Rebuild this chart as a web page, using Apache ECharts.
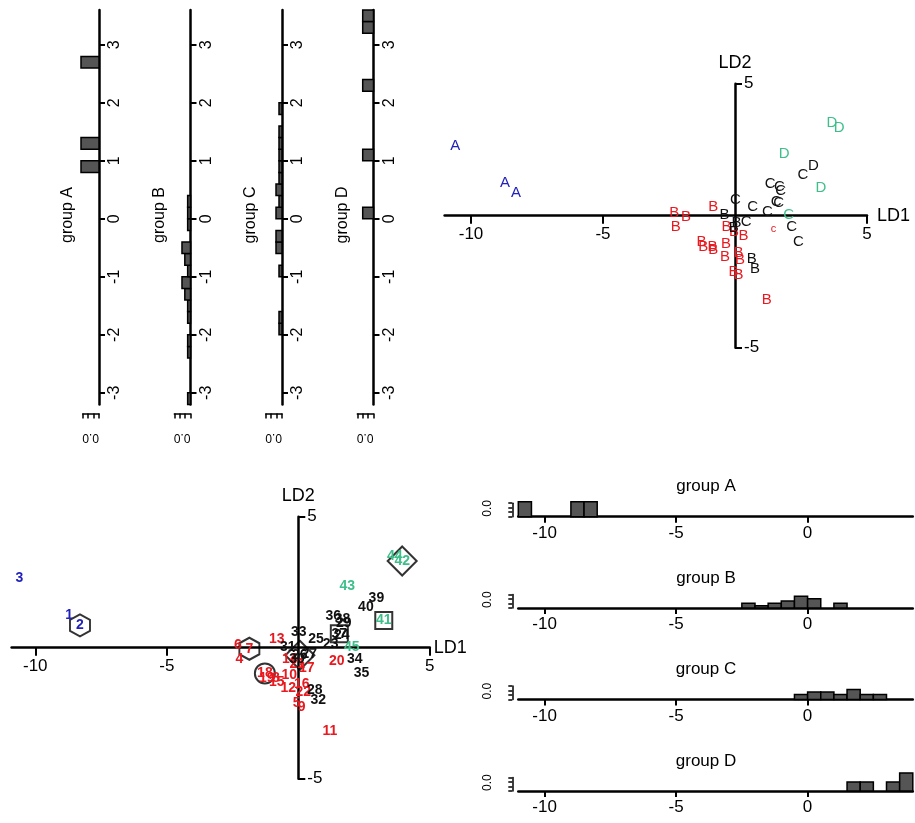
<!DOCTYPE html>
<html><head><meta charset="utf-8">
<script src="https://cdn.jsdelivr.net/npm/echarts@6/dist/echarts.min.js"></script>
<style>html,body{margin:0;padding:0;background:#fff}#c{width:915px;height:823px}</style>
</head><body><div id="c"></div>
<script>
// ---------------- data ----------------
const ids = [1,2,3,4,5,6,7,8,9,10,11,12,13,14,15,16,17,18,19,20,21,22,23,24,25,26,27,28,29,30,31,32,33,34,35,36,37,38,39,40,41,42,43,44,45];
const grp = ['A','A','A',
  'B','B','B','B','B','B','B','B','B','B','B','B','B','B','B','B','B','B','B',
  'C','C','C','C','C','C','C','C','C','C','C','C','C','C','C','C','C','C',
  'D','D','D','D','D'];
const ld1 = [-8.71,-8.30,-10.60,
  -2.24,-0.06,-2.30,-1.86,-0.85,0.13,-0.34,1.20,-0.38,-0.82,-0.32,-0.82,0.13,0.32,-1.27,-1.20,1.46,-0.04,0.19,
  1.23,1.65,0.67,0.06,0.42,0.63,1.73,-0.05,-0.40,0.76,0.02,2.15,2.40,1.33,1.56,1.68,2.97,2.57,
  3.25,3.95,1.86,3.67,2.03];
const ld2 = [1.25,0.85,2.65,
  -0.44,-2.12,0.10,-0.04,-1.17,-2.25,-1.05,-3.17,-1.55,0.34,-0.42,-1.30,-1.40,-0.77,-0.98,-1.17,-0.52,-0.62,-1.68,
  0.15,0.49,0.32,-0.29,-0.25,-1.62,0.95,-0.45,0.02,-2.00,0.60,-0.44,-0.98,1.20,0.53,1.10,1.88,1.54,
  1.04,3.31,2.36,3.50,0.03];
const predLabel = ['A','A','A',
  'B','B','B','B','B','B','B','B','B','B','B','B','B','B','B','B','c','B','B',
  'C','C','C','B','C','B','C','B','B','B','C','C','C','C','C','C','D','C',
  'D','D','D','D','C'];
const groups = ['A','B','C','D'];
const shapeIds   = [2, 7, 18, 26, 37, 41, 42];
const shapeKinds = ['hexagon','hexagon','circle','diamond','square','square','diamond'];
const ld2Ticks = [-3,-2,-1,0,1,2,3];
const ld1HistTicks = [-10,-5,0];
const scatterXTicks = [-10,-5,5];
const scatterYTicks = [-5,5];

// ---------------- helpers ----------------
const FONT = '"Liberation Sans", Arial, Helvetica, sans-serif';
const groupColor = {A:'#2222bb', B:'#e8191f', C:'#111111', D:'#3ebf8a'};
function histogram(vals, start, width, nb){
  const counts = new Array(nb).fill(0);
  vals.forEach(v=>{ const k = Math.floor((v-start)/width + 1e-9); if(k>=0&&k<nb) counts[k]++; });
  const out=[];
  counts.forEach((c,k)=>{ if(c>0) out.push([start+k*width, start+(k+1)*width, c/(vals.length*width)]); });
  return out;
}
function groupVals(arr,g){ return arr.filter((v,i)=>grp[i]===g); }

const grid=[], xAxis=[], yAxis=[], series=[], graphic=[];
const axLine = {show:true, onZero:false, lineStyle:{color:'#000', width:2.5}};
const tickStyle = {color:'#000', width:2};

// ---------------- top-left: LD2 histograms (rotated) ----------------
const tlLineX = [99, 190.5, 282, 373.5];
const TL_LD = 58, TL_DEN = 10.8;
groups.forEach((g,i)=>{
  const w = 1.5*TL_DEN;
  const gi = grid.length;
  grid.push({left: tlLineX[i]-w, top: 10, width: w, height: 6.8*TL_LD, containLabel:false, outerBoundsMode:'none'});
  xAxis.push({type:'value', gridIndex:gi, min:0, max:1.5, interval:0.5, inverse:true, position:'bottom', offset:9,
    axisLine:{show:true, onZero:false, lineStyle:{color:'#000', width:1.5}},
    axisTick:{show:true, length:5, lineStyle:{color:'#000', width:1.5}},
    axisLabel:{show:true, formatter:v=>v===0?'0.0':'', rotate:180, align:'left', verticalAlign:'bottom', margin:18, fontSize:12, color:'#000', fontFamily:FONT},
    splitLine:{show:false}});
  yAxis.push({type:'value', gridIndex:gi, min:-3.2, max:3.6, position:'right',
    axisLine:axLine,
    axisTick:{show:true, customValues:ld2Ticks, length:6, lineStyle:tickStyle},
    axisLabel:{show:true, customValues:ld2Ticks, rotate:90, fontSize:16, margin:8, color:'#000', fontFamily:FONT, formatter:v=>String(v)},
    splitLine:{show:false}});
  series.push({type:'custom', xAxisIndex:gi, yAxisIndex:gi, clip:false,
    data: histogram(groupVals(ld2,g), -3.2, 0.2, 34).map(b=>[b[2], b[0], b[1]]),
    encode:{x:0, y:[1,2]},
    renderItem:(p,api)=>{
      const a = api.coord([api.value(0), api.value(2)]);
      const b = api.coord([0, api.value(1)]);
      return {type:'rect', shape:{x:Math.min(a[0],b[0]), y:Math.min(a[1],b[1]), width:Math.abs(a[0]-b[0]), height:Math.abs(a[1]-b[1])},
        style:{fill:'#555555', stroke:'#000', lineWidth:1.5}};
    }});
  graphic.push({type:'text', x: tlLineX[i]-31, y: 215, rotation: Math.PI/2,
    style:{text:'group '+g, font:'16px '+FONT, fill:'#000', align:'center', verticalAlign:'middle'}});
});

// ---------------- scatter panels (axes crossing at the origin) ----------------
function scatterAxes(gi, g, xmin, xmax, ymin, ymax, nameGapX, nameGapY){
  // shift each axis from the grid edge onto the other axis' zero
  const offX = -(0 - ymin)/(ymax - ymin)*g.height;
  const offY = -(0 - xmin)/(xmax - xmin)*g.width;
  xAxis.push({type:'value', gridIndex:gi, min:xmin, max:xmax, position:'bottom', offset:offX,
    axisLine:{show:true, onZero:false, lineStyle:{color:'#000', width:2.5}},
    axisTick:{show:true, customValues:scatterXTicks, length:8, lineStyle:tickStyle},
    axisLabel:{show:true, customValues:scatterXTicks, fontSize:17, margin:10, color:'#000', fontFamily:FONT},
    splitLine:{show:false},
    name:'LD1', nameLocation:'end', nameGap:nameGapX, nameMoveOverlap:false,
    nameTextStyle:{fontSize:18, color:'#000', fontFamily:FONT, verticalAlign:'middle'}});
  yAxis.push({type:'value', gridIndex:gi, min:ymin, max:ymax, position:'left', offset:offY,
    axisLine:{show:true, onZero:false, lineStyle:{color:'#000', width:2.5}},
    axisTick:{show:true, inside:true, customValues:scatterYTicks, length:7, lineStyle:tickStyle},
    axisLabel:{show:true, inside:true, customValues:scatterYTicks, fontSize:17, margin:9, color:'#000', fontFamily:FONT},
    splitLine:{show:false},
    name:'LD2', nameLocation:'end', nameGap:nameGapY, nameMoveOverlap:false,
    nameTextStyle:{fontSize:18, color:'#000', fontFamily:FONT}});
}
const pointData = ld1.map((v,i)=>[v, ld2[i], i]);

// top-right: predicted letters, coloured by true group
{
  const gi = grid.length;
  const g = {left:444.6, top:83.7, width:422.4, height:264, containLabel:false, outerBoundsMode:'none'};
  grid.push(g);
  scatterAxes(gi, g, -11, 5, -5, 5, 10, 12);
  series.push({type:'custom', xAxisIndex:gi, yAxisIndex:gi, clip:false, data:pointData, encode:{x:0,y:1}, z:3,
    renderItem:(p,api)=>{
      const k = api.value(2);
      const c = api.coord([api.value(0), api.value(1)]);
      const t = predLabel[k];
      const small = t === t.toLowerCase();
      return {type:'text', x:c[0], y:c[1], style:{text:t, fill:groupColor[grp[k]],
        font:(small?'11px ':'15px ')+FONT, align:'center', verticalAlign:'middle'}};
    }});
}

// bottom-left: observation numbers with marker shapes
{
  const gi = grid.length;
  const g = {left:11.6, top:516.7, width:418.2, height:262, containLabel:false, outerBoundsMode:'none'};
  grid.push(g);
  scatterAxes(gi, g, -10.9, 5, -5, 5, 4, 12);
  const hex = 'path://M0,-10 L8.66,-5 L8.66,5 L0,10 L-8.66,5 L-8.66,-5 Z';
  const sym = {hexagon:hex, circle:'circle', diamond:'diamond', square:'rect'};
  const size = {hexagon:[20,22], circle:20, diamond:29, square:17};
  series.push({type:'scatter', xAxisIndex:gi, yAxisIndex:gi, z:2, silent:true,
    data: shapeIds.map((id,j)=>({value:[ld1[id-1], ld2[id-1]], symbol:sym[shapeKinds[j]], symbolSize:size[shapeKinds[j]]})),
    itemStyle:{color:'rgba(0,0,0,0)', borderColor:'#000', borderWidth:2}});
  series.push({type:'custom', xAxisIndex:gi, yAxisIndex:gi, clip:false, data:pointData, encode:{x:0,y:1}, z:3,
    renderItem:(p,api)=>{
      const k = api.value(2);
      const c = api.coord([api.value(0), api.value(1)]);
      return {type:'text', x:c[0], y:c[1], style:{text:String(ids[k]), fill:groupColor[grp[k]],
        font:'bold 14px '+FONT, align:'center', verticalAlign:'middle'}};
    }});
}

// ---------------- bottom-right: LD1 histograms ----------------
const brBase = [516.7, 608.1, 699.5, 790.9];
const BR_DEN = 22.5;
groups.forEach((g,i)=>{
  const gi = grid.length;
  const h = 0.6*BR_DEN;
  grid.push({left:518.3, top:brBase[i]-h, width:394.5, height:h, containLabel:false, outerBoundsMode:'none'});
  xAxis.push({type:'value', gridIndex:gi, min:-11, max:4, position:'bottom',
    axisLine:axLine,
    axisTick:{show:true, customValues:ld1HistTicks, length:6, lineStyle:tickStyle},
    axisLabel:{show:true, customValues:ld1HistTicks, fontSize:17, margin:8, color:'#000', fontFamily:FONT},
    splitLine:{show:false}});
  yAxis.push({type:'value', gridIndex:gi, min:0, max:0.6, interval:0.2, position:'left', offset:6,
    axisLine:{show:true, onZero:false, lineStyle:{color:'#000', width:1.5}},
    axisTick:{show:true, length:4, lineStyle:{color:'#000', width:1.5}},
    axisLabel:{show:true, formatter:v=>v===0?'0.0':'', rotate:90, align:'left', verticalAlign:'bottom', margin:19, fontSize:12, color:'#000', fontFamily:FONT},
    splitLine:{show:false}});
  series.push({type:'custom', xAxisIndex:gi, yAxisIndex:gi, clip:false,
    data: histogram(groupVals(ld1,g), -11, 0.5, 30),
    encode:{x:[0,1], y:2},
    renderItem:(p,api)=>{
      const a = api.coord([api.value(0), api.value(2)]);
      const b = api.coord([api.value(1), 0]);
      return {type:'rect', shape:{x:Math.min(a[0],b[0]), y:Math.min(a[1],b[1]), width:Math.abs(a[0]-b[0]), height:Math.abs(a[1]-b[1])},
        style:{fill:'#555555', stroke:'#000', lineWidth:1.5}};
    }});
  graphic.push({type:'text', x:706, y:brBase[i]-30,
    style:{text:'group '+g, font:'17px '+FONT, fill:'#000', align:'center', verticalAlign:'middle'}});
});

const chart = echarts.init(document.getElementById('c'), null, {renderer:'canvas'});
chart.setOption({
  animation:false,
  backgroundColor:'#ffffff',
  textStyle:{fontFamily:FONT},
  grid, xAxis, yAxis, series, graphic
});
</script></body></html>
